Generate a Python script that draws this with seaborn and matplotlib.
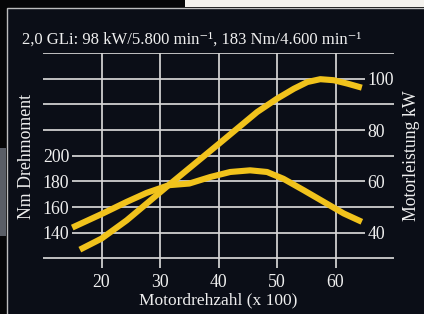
import matplotlib
matplotlib.use("Agg")
import matplotlib.pyplot as plt
import seaborn as sns
from matplotlib.patches import Rectangle

# values
rpm_torque = [15, 20, 24.3, 27.7, 31.5, 35, 38.6, 42, 45.4, 48.3, 51.1, 54.6, 58, 61.4, 64.5]
torque_nm = [144, 154.5, 164, 171, 177, 178.3, 183.4, 187.3, 188.6, 187.3, 182, 173, 164, 155, 148.5]
rpm_power = [16.3, 20, 24.3, 27.7, 31.1, 40, 46.6, 50, 52.9, 55.2, 57.4, 59.7, 62, 64.5]
power_kw = [33.4, 37.7, 44.8, 51.3, 57.8, 74.5, 87, 92.2, 96.1, 98.7, 99.8, 99.4, 98.1, 96.5]

x_ticks = [20, 30, 40, 50, 60]
nm_ticks = [140, 160, 180, 200]
kw_ticks = [40, 60, 80, 100]
grid_nm = [120, 140, 160, 180, 200, 220, 240, 260, 280]

title = "2,0 GLi: 98 kW/5.800 min\u207b\u00b9, 183 Nm/4.600 min\u207b\u00b9"

sns.set_style("dark")
plt.rcParams['font.family'] = ['Liberation Serif', 'DejaVu Serif']

navy = "#0b0e17"
yellow = "#f1c31c"
gridc = "#d6d6d6"
txt = "#efefef"

fig = plt.figure(figsize=(4.24, 3.14), dpi=100)
fig.patch.set_facecolor("#060607")
# brochure page edges around the chart box
fig.patches.append(Rectangle((185/424, 1-7/314), 1, 7/314, transform=fig.transFigure,
                             facecolor="#f4f2ee", edgecolor="none", zorder=-5))
fig.patches.append(Rectangle((0, 0.25), 6/424, 0.28, transform=fig.transFigure,
                             facecolor="#5a5e66", edgecolor="none", zorder=-5))
fig.patches.append(Rectangle((7/424, -0.01), 1, 1-8/314+0.01, transform=fig.transFigure,
                             facecolor=navy, edgecolor="#bdbdbd", linewidth=1.0, zorder=-5))

ax = fig.add_axes([43/424, 1-268/314, 351/424, 215/314])
ax.set_facecolor("none")
for s in ax.spines.values():
    s.set_visible(False)
ax.set_xlim(10, 70)
ax.set_ylim(112.5, 280)

# grid: labelled lines are shortened to leave room for their labels
kw_as_nm = [120 + (k - 30) * 2 for k in kw_ticks]
for v in grid_nm:
    x0 = 15 if v in nm_ticks else 10
    x1 = 65 if v in kw_as_nm else 70
    ax.hlines(v, x0, x1, color=gridc, linewidth=1.25, zorder=1)
ax.vlines(x_ticks, 112.5, 280, color=gridc, linewidth=1.25, zorder=1)

sns.lineplot(x=rpm_torque, y=torque_nm, ax=ax, color=yellow, linewidth=4.4, zorder=3)
ax.lines[-1].set_solid_joinstyle("round")
ax.lines[-1].set_solid_capstyle("butt")

ax2 = ax.twinx()
ax2.set_facecolor("none")
ax2.set_ylim(30 + (112.5 - 120) / 2, 30 + (280 - 120) / 2)
for s in ax2.spines.values():
    s.set_visible(False)
sns.lineplot(x=rpm_power, y=power_kw, ax=ax2, color=yellow, linewidth=4.4, zorder=3)
ax2.lines[-1].set_solid_joinstyle("round")
ax2.lines[-1].set_solid_capstyle("butt")

ax.set_xticks(x_ticks)
ax.set_yticks(nm_ticks)
ax2.set_yticks(kw_ticks)
ax.tick_params(axis='x', length=0, pad=4, labelsize=12.8, colors=txt)
ax.tick_params(axis='y', length=0, pad=-19, labelsize=12.8, colors=txt)
ax2.tick_params(axis='y', length=0, pad=-19, labelsize=12.8, colors=txt)
ax.grid(False)
ax2.grid(False)

ax.set_xlabel("Motordrehzahl (x 100)", fontsize=12.5, color=txt, labelpad=1)
ax.set_ylabel("")
ax2.set_ylabel("")
fig.text(27/424, 1-156/314, "Nm Drehmoment", rotation=90, ha='center', va='center',
         fontsize=12.8, color=txt)
fig.text(412/424, 1-156/314, "Motorleistung kW", rotation=90, ha='center', va='center',
         fontsize=12.8, color=txt)
fig.text(22/424, 1-40/314, title, ha='left', va='center', fontsize=12, color=txt)

fig.savefig("out.png", dpi=100, facecolor=fig.get_facecolor())
